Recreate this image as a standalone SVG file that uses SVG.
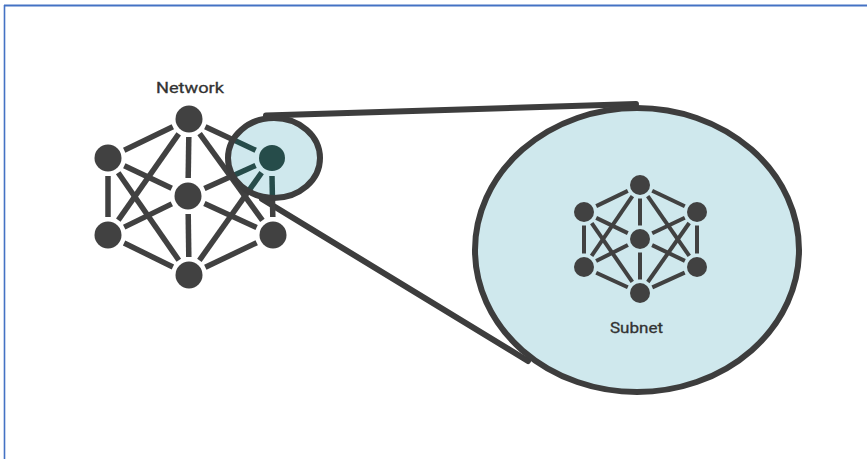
<svg xmlns="http://www.w3.org/2000/svg" width="867" height="459" viewBox="0 0 867 459">
  <style>
    .edge { stroke: #414141; stroke-width: 5.5; fill: none; }
    .sedge { stroke: #414141; stroke-width: 4; fill: none; }
    .tedge { stroke: #264c4a; stroke-width: 5.5; fill: none; }
    .node { fill: #414141; }
    .zoom { fill: #cfe8ed; stroke: #3d3d3d; stroke-width: 6; }
    .tangent { stroke: #3d3d3d; stroke-width: 6; fill: none; stroke-linecap: round; }
    .label { font-family: Roboto, "Liberation Sans", sans-serif; font-size: 15px; fill: #333333; stroke: #333333; stroke-width: 0.3; }
  </style>
  <defs>
    <clipPath id="lensClip">
      <ellipse cx="274" cy="158" rx="45" ry="39"/>
    </clipPath>
  </defs>
  <rect width="867" height="459" fill="#ffffff"/>
  <g id="frame" stroke="#4472c4" fill="none">
    <line x1="4" y1="5.5" x2="867" y2="5.5" stroke-width="2"/>
    <line x1="4.5" y1="5" x2="4.5" y2="459" stroke-width="1.6"/>
  </g>

  <g id="connectors">
    <line class="tangent" x1="266" y1="115.5" x2="636" y2="104"/>
    <line class="tangent" x1="262" y1="199" x2="528" y2="361"/>
  </g>

  <g id="subnet-lens">
    <ellipse class="zoom" cx="637" cy="250" rx="162" ry="142"/>
  </g>

  <g id="network-edges">
    <line class="edge" x1="172.8" y1="126.8" x2="124.2" y2="150.2"/>
    <line class="edge" x1="205.3" y1="126.7" x2="255.7" y2="150.3"/>
    <line class="edge" x1="188.8" y1="137" x2="188.2" y2="178"/>
    <line class="edge" x1="178.7" y1="133.8" x2="118.3" y2="220.2"/>
    <line class="edge" x1="199.6" y1="133.6" x2="262.4" y2="220.4"/>
    <line class="edge" x1="172.9" y1="267" x2="124.1" y2="243"/>
    <line class="edge" x1="205.3" y1="267.3" x2="256.7" y2="242.7"/>
    <line class="edge" x1="188.8" y1="257" x2="188.2" y2="214"/>
    <line class="edge" x1="178.8" y1="260.2" x2="118.2" y2="172.8"/>
    <line class="edge" x1="199.4" y1="260.3" x2="261.6" y2="172.7"/>
    <line class="edge" x1="108" y1="176" x2="108" y2="217"/>
    <line class="edge" x1="272" y1="176" x2="272.8" y2="217"/>
    <line class="edge" x1="124.3" y1="165.7" x2="171.7" y2="188.3"/>
    <line class="edge" x1="255.6" y1="165.4" x2="204.4" y2="188.6"/>
    <line class="edge" x1="124.2" y1="227.1" x2="171.8" y2="203.9"/>
    <line class="edge" x1="256.6" y1="227.5" x2="204.4" y2="203.5"/>
  </g>

  <g id="network-lens">
    <ellipse cx="274" cy="158" rx="46" ry="40" fill="#cfe8ed"/>
    <g clip-path="url(#lensClip)">
      <line class="tedge" x1="205.3" y1="126.7" x2="255.7" y2="150.3"/>
      <line class="tedge" x1="272" y1="176" x2="272.8" y2="217"/>
      <line class="tedge" x1="255.6" y1="165.4" x2="204.4" y2="188.6"/>
      <line class="tedge" x1="199.4" y1="260.3" x2="261.6" y2="172.7"/>
    </g>
    <ellipse cx="274" cy="158" rx="46" ry="40" fill="none" stroke="#3d3d3d" stroke-width="6"/>
  </g>

  <g id="network-nodes">
    <circle id="n-top" class="node" cx="189" cy="119" r="13.5"/>
    <circle id="n-ul" class="node" cx="108" cy="158" r="13.5"/>
    <circle id="n-ur" cx="272" cy="158" r="13" fill="#264c4a"/>
    <circle id="n-c" class="node" cx="188" cy="196" r="13.5"/>
    <circle id="n-ll" class="node" cx="108" cy="235" r="13.5"/>
    <circle id="n-lr" class="node" cx="273" cy="235" r="13.5"/>
    <circle id="n-b" class="node" cx="189" cy="275" r="13.5"/>
  </g>
  <g id="network-label">
    <text class="label" x="156" y="93" textLength="68" lengthAdjust="spacingAndGlyphs">Network</text>
  </g>

  <g id="subnet-edges">
    <line class="sedge" x1="627.8" y1="190.9" x2="596.2" y2="206.1"/>
    <line class="sedge" x1="652.2" y1="190.8" x2="684.8" y2="206.2"/>
    <line class="sedge" x1="640" y1="198.5" x2="640" y2="225.5"/>
    <line class="sedge" x1="632.4" y1="196.2" x2="591.6" y2="255.8"/>
    <line class="sedge" x1="647.7" y1="196.1" x2="689.3" y2="255.9"/>
    <line class="sedge" x1="627.8" y1="287.3" x2="596.2" y2="272.7"/>
    <line class="sedge" x1="652.3" y1="287.4" x2="684.7" y2="272.6"/>
    <line class="sedge" x1="640" y1="279.5" x2="640" y2="252.5"/>
    <line class="sedge" x1="632.3" y1="281.9" x2="591.7" y2="223.1"/>
    <line class="sedge" x1="647.8" y1="282" x2="689.2" y2="223"/>
    <line class="sedge" x1="584" y1="225.5" x2="584" y2="253.5"/>
    <line class="sedge" x1="697" y1="225.5" x2="697" y2="253.5"/>
    <line class="sedge" x1="596.2" y1="217.9" x2="627.8" y2="233.1"/>
    <line class="sedge" x1="684.8" y1="217.8" x2="652.2" y2="233.2"/>
    <line class="sedge" x1="596.1" y1="261" x2="627.9" y2="245"/>
    <line class="sedge" x1="684.9" y1="260.9" x2="652.1" y2="245.1"/>
  </g>
  <g id="subnet-nodes">
    <circle id="s-top" class="node" cx="640" cy="185" r="10"/>
    <circle id="s-ul" class="node" cx="584" cy="212" r="10"/>
    <circle id="s-ur" class="node" cx="697" cy="212" r="10"/>
    <circle id="s-c" class="node" cx="640" cy="239" r="10"/>
    <circle id="s-ll" class="node" cx="584" cy="267" r="10"/>
    <circle id="s-lr" class="node" cx="697" cy="267" r="10"/>
    <circle id="s-b" class="node" cx="640" cy="293" r="10"/>
  </g>
  <g id="subnet-label">
    <text class="label" x="610" y="333" textLength="53" lengthAdjust="spacingAndGlyphs">Subnet</text>
  </g>
</svg>
